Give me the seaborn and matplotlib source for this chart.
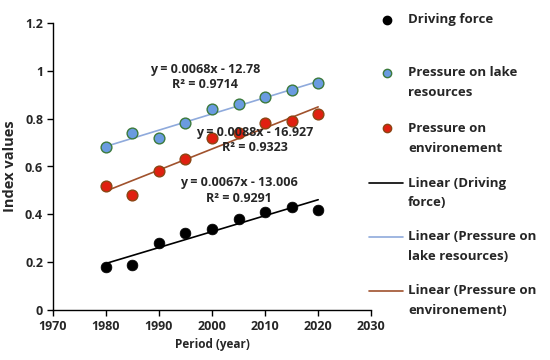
import matplotlib
matplotlib.use("Agg")
import matplotlib.pyplot as plt
import seaborn as sns
import pandas as pd
from matplotlib.lines import Line2D

years = [1980, 1985, 1990, 1995, 2000, 2005, 2010, 2015, 2020]
driving = [0.18, 0.19, 0.28, 0.32, 0.34, 0.38, 0.41, 0.43, 0.42]
lake = [0.68, 0.74, 0.72, 0.78, 0.84, 0.86, 0.89, 0.92, 0.95]
env = [0.52, 0.48, 0.58, 0.63, 0.72, 0.74, 0.78, 0.79, 0.82]
eq_texts = [("y = 0.0067x - 13.006", "R² = 0.9291"),
            ("y = 0.0068x - 12.78", "R² = 0.9714"),
            ("y = 0.0088x - 16.927", "R² = 0.9323")]
legend_labels = ["Driving force", "Pressure on lake\nresources", "Pressure on\nenvironement",
                 "Linear (Driving\nforce)", "Linear (Pressure on\nlake resources)",
                 "Linear (Pressure on\nenvironement)"]

sns.set_theme(style="white")
plt.rcParams['font.family'] = ['Open Sans', 'DejaVu Sans']
plt.rcParams['font.weight'] = 'bold'

df = pd.DataFrame({"year": years, "driving": driving, "lake": lake, "env": env})

W, H = 550, 360
fig = plt.figure(figsize=(5.5, 3.6), dpi=100)
ax = fig.add_axes([0.096, 0.139, 0.579, 0.797])

c_lake_line = "#8FAADC"
c_env_line = "#A0522D"
# trend lines
sns.regplot(data=df, x="year", y="driving", ax=ax, ci=None, scatter=False,
            line_kws=dict(color="black", lw=1.2))
sns.regplot(data=df, x="year", y="lake", ax=ax, ci=None, scatter=False,
            line_kws=dict(color=c_lake_line, lw=1.2))
sns.regplot(data=df, x="year", y="env", ax=ax, ci=None, scatter=False,
            line_kws=dict(color=c_env_line, lw=1.2))

# points
sns.scatterplot(data=df, x="year", y="driving", ax=ax, color="black", s=60,
                edgecolor="black", linewidth=0.5, zorder=3)
sns.scatterplot(data=df, x="year", y="lake", ax=ax, color="#6A9BE0", s=60,
                edgecolor="#3C7A3C", linewidth=1.0, zorder=3)
sns.scatterplot(data=df, x="year", y="env", ax=ax, color="#E02010", s=60,
                edgecolor="#8B4513", linewidth=1.0, zorder=3)

ax.set_xlim(1970, 2030)
ax.set_ylim(0, 1.2)
ax.set_xticks([1970, 1980, 1990, 2000, 2010, 2020, 2030])
ax.set_yticks([0, 0.2, 0.4, 0.6, 0.8, 1.0, 1.2])
ax.set_yticklabels(["0", "0.2", "0.4", "0.6", "0.8", "1", "1.2"])
for s in ["top", "right"]:
    ax.spines[s].set_visible(False)
for s in ["left", "bottom"]:
    ax.spines[s].set_color("black")
    ax.spines[s].set_linewidth(1.0)
ax.tick_params(axis="both", direction="out", length=4, width=1, color="black",
               labelsize=9, pad=3, bottom=True, left=True)
for lbl in ax.get_xticklabels() + ax.get_yticklabels():
    lbl.set_fontweight("bold")
ax.set_xlabel("Period (year)", fontsize=8.5, fontweight="bold", labelpad=4)
ax.set_ylabel("Index values", fontsize=10.5, fontweight="bold", labelpad=6)

# equations
fs = 9
ax.text(2005.0, 0.50, eq_texts[0][0] + "\n" + eq_texts[0][1], ha="center", va="center",
        fontsize=fs, fontweight="bold", linespacing=1.25)
ax.text(1998.7, 0.975, eq_texts[1][0] + "\n" + eq_texts[1][1], ha="center", va="center",
        fontsize=fs, fontweight="bold", linespacing=1.25)
ax.text(2008.0, 0.71, eq_texts[2][0] + "\n" + eq_texts[2][1], ha="center", va="center",
        fontsize=fs, fontweight="bold", linespacing=1.25)

# legend (manual, handles aligned to the first text line)
handles = [
    dict(marker="o", ls="", color="black", markersize=6),
    dict(marker="o", ls="", markerfacecolor="#6A9BE0", markeredgecolor="#3C7A3C", markersize=6),
    dict(marker="o", ls="", markerfacecolor="#E02010", markeredgecolor="#8B4513", markersize=6),
    dict(color="black", lw=1.2),
    dict(color=c_lake_line, lw=1.2),
    dict(color=c_env_line, lw=1.2),
]
first_line_px = [19.5, 73, 128, 183, 237, 291]
line_pitch = 20
text_x = 408 / W
for lab, y_px, hk in zip(legend_labels, first_line_px, handles):
    yf = 1 - y_px / H
    if hk.get("marker"):
        xs = [387 / W]
        ys = [yf]
    else:
        xs = [369 / W, 403 / W]
        ys = [yf, yf]
    fig.add_artist(Line2D(xs, ys, transform=fig.transFigure, **hk))
    for i, part in enumerate(lab.split("\n")):
        fig.text(text_x, 1 - (y_px + i * line_pitch) / H, part, ha="left", va="center",
                 fontsize=9.5, fontweight="bold")

fig.savefig("out.png", dpi=100)
